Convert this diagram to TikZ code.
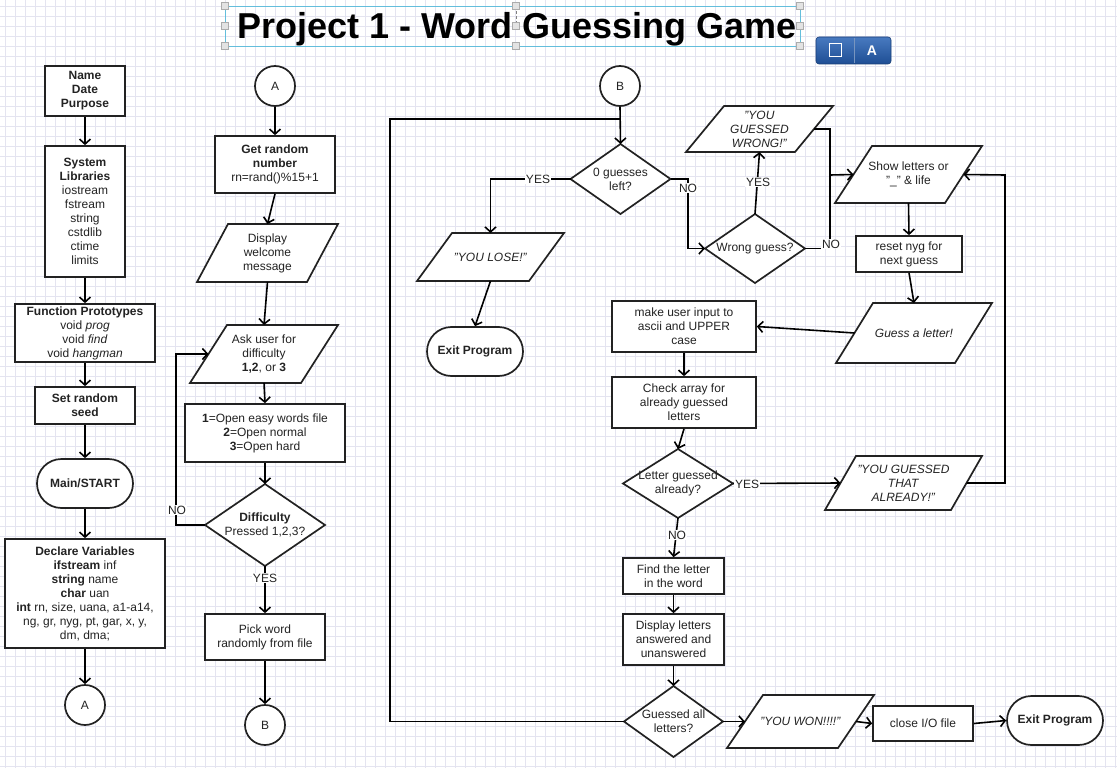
\documentclass[tikz,border=0pt]{standalone}
\usepackage{fontspec}
\setmainfont{Liberation Sans}
\usetikzlibrary{calc,shapes.misc,arrows.meta}
\definecolor{shp}{RGB}{34,34,34}
\definecolor{txt}{RGB}{35,35,35}
\definecolor{gridc}{RGB}{228,228,240}
\definecolor{selc}{RGB}{100,190,220}
\definecolor{btntop}{RGB}{72,122,192}
\definecolor{btnbot}{RGB}{30,78,148}
\newcommand\bodyfont{\fontsize{12}{14}\selectfont}
\tikzset{
  shapeline/.style={draw=shp, line width=1.7pt, fill=white},
  boxnode/.style={shapeline, rectangle, align=center, inner sep=2pt, text=txt, font=\bodyfont},
  stad/.style={shapeline, rounded rectangle, align=center, inner sep=2pt, text=txt, font=\bodyfont},
  circ/.style={shapeline, circle, minimum size=40, inner sep=0pt, text=txt, font=\bodyfont},
  paratext/.style={align=center, inner sep=0pt, outer sep=0pt, text=txt, font=\bodyfont},
  lbl/.style={fill=white, inner sep=1pt, text=txt, font=\bodyfont},
  plainline/.style={draw=black, line width=1.6pt},
  conn/.style={plainline, -{Straight Barb[length=5pt,width=11pt]}},
}
% parallelogram: name, center, total width, height, skew, text
\newcommand\para[6]{%
  \draw[shapeline] ($#2+(-#3/2,#4/2)$) -- ($#2+(#3/2-#5,#4/2)$) -- ($#2+(#3/2,-#4/2)$) -- ($#2+(-#3/2+#5,-#4/2)$) -- cycle;
  \node[paratext, minimum width={#3-#5}, minimum height=#4] (#1) at #2 {#6};
  \coordinate (#1-l) at (#1.west);
  \coordinate (#1-r) at (#1.east);
}
% diamond: name, center, width, height, text
\newcommand\dia[5]{%
  \draw[shapeline] ($#2+(0,-#4/2)$) -- ($#2+(#3/2,0)$) -- ($#2+(0,#4/2)$) -- ($#2+(-#3/2,0)$) -- cycle;
  \node[paratext, minimum width=#3, minimum height=#4] (#1) at #2 {#5};
}
\begin{document}
\begin{tikzpicture}[x=1pt,y=-1pt]
\useasboundingbox (0,0) rectangle (1117,768);
\fill[white] (0,0) rectangle (1117,768);
\foreach \i in {0,...,111} \draw[gridc, line width=0.8pt] ({5.7+10*\i},0) -- ({5.7+10*\i},768);
\foreach \j in {0,...,76} \draw[gridc, line width=0.8pt] (0,{6+10*\j}) -- (1117,{6+10*\j});

% title with selection frame
\draw[selc, line width=0.8pt] (225,6) rectangle (800,46);
\node[font=\bfseries\fontsize{36}{40}\selectfont, anchor=base, inner sep=0pt] (title) at (517,39) {Project 1 - Word Guessing Game};
\draw[densely dashed, gray, line width=0.5pt] (516,6) -- (516,26);
\foreach \hx in {225,516,800} \foreach \hy in {6,26,46}
  \draw[fill=gray!22, draw=gray!65, line width=0.5pt] (\hx-3.5,\hy-3.5) rectangle (\hx+3.5,\hy+3.5);

% blue button
\shade[top color=btntop, bottom color=btnbot, rounded corners=3pt, draw=btnbot!80!black, line width=0.6pt] (816,37) rectangle (891,64);
\draw[btnbot!60!white, line width=0.6pt] (854,38) -- (854,63);
\draw[white, line width=1pt] (829,44) rectangle (841,57);
\node[text=white, font=\bfseries\fontsize{14}{16}\selectfont] (btnA) at (872,51) {A};

% ---------- left column ----------
\node[boxnode, minimum width=80, minimum height=50] (nd) at (85,91) {\textbf{Name}\\\textbf{Date}\\\textbf{Purpose}};
\node[boxnode, minimum width=80, minimum height=131] (sl) at (85,211.5) {\textbf{System}\\\textbf{Libraries}\\iostream\\fstream\\string\\cstdlib\\ctime\\limits};
\node[boxnode, minimum width=140, minimum height=58] (fp) at (85,333) {\textbf{Function Prototypes}\\void \textit{prog}\\void \textit{find}\\void \textit{hangman}};
\node[boxnode, minimum width=100, minimum height=37] (srs) at (85,405.5) {\textbf{Set random}\\\textbf{seed}};
\node[stad, minimum width=100, minimum height=49] (ms) at (85,483.5) {\textbf{Main/START}};
\node[boxnode, minimum width=160, minimum height=109] (dv) at (85,593.5) {\textbf{Declare Variables}\\\textbf{ifstream} inf\\\textbf{string} name\\\textbf{char} uan\\\textbf{int} rn, size, uana, a1-a14,\\ng, gr, nyg, pt, gar, x, y,\\dm, dma;};
\node[circ] (ca2) at (85,705) {A};

\draw[conn] (nd.south) -- (sl.north);
\draw[conn] (sl.south) -- (fp.north);
\draw[conn] (fp.south) -- (srs.north);
\draw[conn] (srs.south) -- (ms.north);
\draw[conn] (ms.south) -- (dv.north);
\draw[conn] (dv.south) -- (ca2.north);

% ---------- middle column ----------
\node[circ] (ca1) at (275,86) {A};
\node[boxnode, minimum width=120, minimum height=57] (grn) at (275,164.5) {\textbf{Get random}\\\textbf{number}\\rn=rand()\%15+1};
\para{dwm}{(267.5,253)}{141}{58}{31}{Display\\welcome\\message}
\para{ask}{(264,354)}{148}{58}{37}{Ask user for\\difficulty\\\textbf{1,2}, or \textbf{3}}
\node[boxnode, minimum width=160, minimum height=58] (opt) at (265,433) {\textbf{1}=Open easy words file\\\textbf{2}=Open normal\\\textbf{3}=Open hard};
\dia{diff}{(265,525)}{120}{82}{\textbf{Difficulty}\\Pressed 1,2,3?}
\node[boxnode, minimum width=120, minimum height=46] (pick) at (265,637) {Pick word\\randomly from file};
\node[circ] (cb1) at (265,725) {B};
\coordinate (noc) at (176,525);

\draw[conn] (ca1.south) -- (grn.north);
\draw[conn] (grn.south) -- (dwm.north);
\draw[conn] (dwm.south) -- (ask.north);
\draw[conn] (ask.south) -- (opt.north);
\draw[conn] (opt.south) -- (diff.north);
\draw[conn] (diff.west) -- (noc) |- (ask-l);
\draw[conn] (diff.south) -- (pick.north);
\draw[conn] (pick.south) -- (cb1.north);
\node[lbl] (lno1) at (177,510) {NO};
\node[lbl] (lyes1) at (265,578) {YES};

% ---------- right section ----------
\node[circ] (cb2) at (620,86) {B};
\dia{zg}{(620.5,179)}{100}{70}{0 guesses\\left?}
\para{lose}{(490.5,257)}{147}{48}{35}{\textit{"YOU LOSE!"}}
\node[stad, minimum width=100, minimum height=49] (ex1) at (475,351.5) {\textbf{Exit Program}};
\dia{wg}{(755,248.5)}{100}{69}{Wrong guess?}
\para{ygw}{(759.5,129)}{147}{46}{38}{\textit{"YOU}\\\textit{GUESSED}\\\textit{WRONG!"}}
\para{show}{(908.5,174.5)}{147}{57}{37}{Show letters or\\"\_" \& life}
\node[boxnode, minimum width=106, minimum height=36] (reset) at (909,254) {reset nyg for\\next guess};
\para{guess}{(914,333)}{156}{60}{37}{\textit{Guess a letter!}}
\node[boxnode, minimum width=144, minimum height=51] (mui) at (684,326.5) {make user input to\\ascii and UPPER\\case};
\node[boxnode, minimum width=144, minimum height=51] (chk) at (684,402.5) {Check array for\\already guessed\\letters};
\dia{lga}{(678,483.5)}{110}{69}{Letter guessed\\already?}
\para{yta}{(903.5,483)}{157}{54}{31}{\textit{"YOU GUESSED}\\\textit{THAT}\\\textit{ALREADY!"}}
\node[boxnode, minimum width=101, minimum height=36] (find) at (673.5,576) {Find the letter\\in the word};
\node[boxnode, minimum width=101, minimum height=51] (disp) at (673.5,639.5) {Display letters\\answered and\\unanswered};
\dia{gal}{(673.5,721.5)}{99}{71}{Guessed all\\letters?}
\para{won}{(800.5,721.5)}{147}{53}{36}{\textit{"YOU WON!!!!"}}
\node[boxnode, minimum width=100, minimum height=35] (close) at (923,723.5) {close I/O file};
\node[stad, minimum width=100, minimum height=49] (ex2) at (1055,720.5) {\textbf{Exit Program}};

\coordinate (lpc) at (390,119);
\coordinate (lpj) at (620,119);
\coordinate (zgc) at (688,179);
\coordinate (vj) at (830,175);
\coordinate (rc) at (1005,175);

\draw[plainline] (gal.west) -| (lpc) -- (lpj);
\draw[conn] (cb2.south) -- (zg.north);
\draw[conn] (zg.west) -| (lose.north);
\draw[conn] (lose.south) -- (ex1.north);
\draw[conn] (zg.east) -- (zgc) |- (wg.west);
\draw[conn] (wg.north) -- (ygw.south);
\draw[conn] (ygw-r) -| (vj) -- (show-l);
\draw[plainline] (wg.east) -| (vj);
\draw[conn] (show.south) -- (reset.north);
\draw[conn] (reset.south) -- (guess.north);
\draw[conn] (guess-l) -- (mui.east);
\draw[conn] (mui.south) -- (chk.north);
\draw[conn] (chk.south) -- (lga.north);
\draw[conn] (lga.east) -- (yta-l);
\draw[conn] (yta-r) -| (rc) -- (show-r);
\draw[conn] (lga.south) -- (find.north);
\draw[conn] (find.south) -- (disp.north);
\draw[conn] (disp.south) -- (gal.north);
\draw[conn] (gal.east) -- (won-l);
\draw[conn] (won-r) -- (close.west);
\draw[conn] (close.east) -- (ex2.west);

\node[lbl] (lyes2) at (538,179) {YES};
\node[lbl] (lno2) at (688,188) {NO};
\node[lbl] (lyes3) at (758,182) {YES};
\node[lbl] (lno3) at (831,244) {NO};
\node[lbl] (lyes4) at (747,484) {YES};
\node[lbl] (lno4) at (677,535) {NO};
\end{tikzpicture}
\end{document}
